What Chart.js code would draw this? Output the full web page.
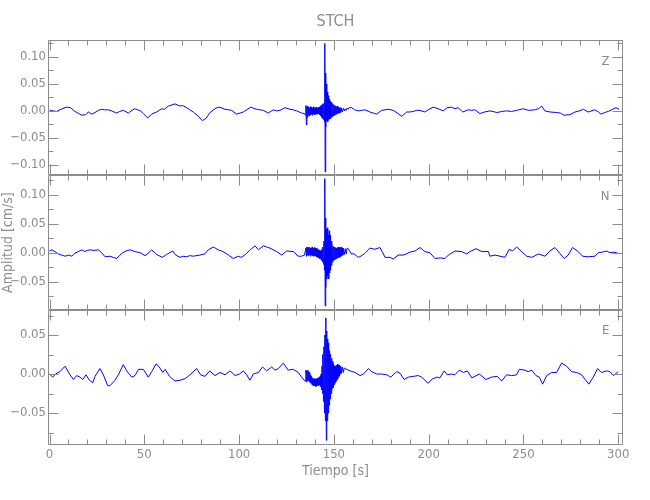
<!DOCTYPE html>
<html>
<head>
<meta charset="utf-8">
<title>STCH</title>
<script src="https://cdn.jsdelivr.net/npm/chart.js@4"></script>
<style>
  body { margin: 0; background: #fff; }
  #caja { width: 650px; height: 500px; }
</style>
</head>
<body>
<div id="caja"><canvas id="sismo" width="650" height="500"></canvas></div>
<script>
// traces: [tiempo (s), amplitud (cm/s)]
const trazaZ = [
  [0.3,0.001],[2,0.0],[3.8,-0.001],[6,0.003],[9,0.007],[11,0.006],[13.4,-0.001],[15,-0.004],[17,-0.008],[19,-0.007],
  [20.5,-0.002],[22.3,-0.006],[24,-0.003],[25.8,0.001],[27.5,0.003],[29,0.002],[31,0.002],[32.8,0.0],[35.4,-0.004],[37,-0.001],
  [39,0.001],[41.6,-0.004],[43.5,0.001],[45,0.004],[46.5,0.002],[48,0.0],[49.5,-0.005],[51.8,-0.013],[53.9,-0.006],[56.5,-0.002],
  [59.2,0.004],[60.5,0.003],[62.7,0.009],[64.5,0.011],[66.2,0.013],[68.8,0.009],[70.2,0.01],[71.8,0.007],[73.2,0.004],[75.8,-0.002],
  [78.5,-0.01],[80.6,-0.018],[82.5,-0.014],[84.7,-0.003],[87.3,0.004],[89,0.007],[90.5,0.006],[92.6,0.003],[94.3,0.002],[96,0.001],
  [98.7,-0.006],[100.5,-0.004],[102.2,-0.002],[104,0.002],[106.1,0.007],[107.5,0.005],[109.3,0.003],[111,0.002],[112.8,0.001],[115.4,-0.004],
  [118,0.002],[119.8,0.0],[121.6,0.001],[124.2,0.006],[126.8,0.003],[128.5,0.002],[130.4,0.0],[133,-0.004],[134.5,-0.005],[135,-0.008],
  [135.25,0.010],[135.5,-0.026],[135.75,0.008],[136,-0.012],[136.25,0.009],[136.5,-0.008],[136.75,0.007],[137,-0.009],[137.25,0.006],[137.5,-0.007],
  [137.75,0.008],[138,-0.006],[138.25,0.007],[138.5,-0.008],[138.75,0.006],[139,-0.005],[139.25,0.008],[139.5,-0.006],[139.75,0.005],[140,-0.007],
  [140.25,0.006],[140.5,-0.005],[140.75,0.007],[141,-0.006],[141.25,0.005],[141.5,-0.006],[141.75,0.006],[142,-0.005],[142.25,0.007],[142.5,-0.007],
  [142.75,0.008],[143,-0.009],[143.25,0.010],[143.5,-0.012],[143.75,0.011],[144,-0.014],[144.25,0.013],[144.5,-0.016],[144.75,0.014],[145,-0.02],
  [145.2,0.125],[145.4,-0.113],[145.6,0.07],[145.8,-0.03],[146,0.05],[146.25,-0.018],[146.5,0.035],[146.75,-0.02],[147,0.028],[147.25,-0.016],
  [147.5,0.022],[147.75,-0.015],[148,0.018],[148.25,-0.014],[148.5,0.016],[148.75,-0.012],[149,0.015],[149.25,-0.01],[149.5,0.013],[149.75,-0.009],
  [150,0.011],[150.25,-0.008],[150.5,0.01],[150.75,-0.007],[151,0.009],[151.25,-0.006],[151.5,0.008],[151.75,-0.005],[152,0.009],[152.25,-0.004],
  [152.5,0.007],[152.75,-0.004],[153,0.006],[153.25,-0.003],[153.5,0.006],[153.75,-0.002],[154,0.005],[154.5,-0.002],[155,0.005],[155.5,0.0],
  [156,0.004],[156.5,0.001],[157,0.005],[157.5,0.003],[158,0.006],[159.4,0.006],[161,0.002],[162.9,0.0],[164.6,0.001],[166.4,0.002],
  [169,-0.002],[170.8,-0.004],[172.6,-0.006],[175.2,0.001],[176.9,0.002],[178.7,0.003],[181.3,0.001],[183.5,-0.004],[185.8,-0.01],[188.4,-0.002],
  [190.1,-0.002],[191.9,-0.001],[193.7,0.001],[195.4,0.001],[198,-0.002],[200.2,0.003],[202.4,0.007],[205,0.004],[207.7,0.0],[209.8,0.006],
  [212,0.007],[213.8,0.004],[215.5,0.006],[218,-0.002],[220.9,0.002],[222.6,0.001],[224.4,0.002],[227,-0.005],[229.5,-0.002],[232.3,0.0],
  [236.2,-0.003],[238.5,-0.001],[241.1,0.0],[243.7,-0.001],[246.4,0.001],[249.9,0.004],[252.5,0.001],[256,0.002],[258,0.004],[259.6,0.009],
  [261.3,0.0],[264,-0.002],[267.5,-0.003],[269.5,-0.004],[271.4,-0.008],[274.5,-0.007],[277.2,-0.002],[279.5,0.0],[281.6,0.003],[284.2,-0.002],
  [287.7,0.002],[289.5,-0.002],[290.9,-0.006],[292.8,-0.003],[294.7,-0.001],[296.5,0.002],[298.8,0.006],[300.5,0.003]
];

const trazaN = [
  [0,0.003],[1.2,0.005],[2.8,0.002],[4.6,-0.002],[6.4,-0.004],[8.2,-0.006],[10,-0.004],[11.8,-0.006],[13.4,-0.001],[15.2,0.002],
  [17,0.005],[18.7,0.002],[20,0.004],[21.4,0.005],[23.5,0.004],[25.7,0.005],[27.5,0.0],[29.3,-0.007],[31.9,-0.006],[33.6,-0.008],
  [35.4,-0.01],[36.8,-0.005],[38.1,-0.001],[40.3,0.003],[42.5,0.005],[45.1,0.002],[47.8,0.0],[50.4,-0.005],[52,-0.001],[53.9,0.005],
  [55.2,0.001],[56.5,-0.003],[59.5,-0.008],[61.7,-0.003],[65,0.003],[66.2,-0.003],[68.8,-0.008],[70.5,-0.006],[72.3,-0.007],[74,-0.005],
  [75.8,-0.006],[79.3,-0.004],[81.9,-0.002],[83.8,0.005],[86.4,0.01],[89,0.005],[90.8,0.003],[92.6,0.0],[94.8,-0.005],[96.9,-0.01],
  [99.6,-0.006],[101.3,-0.008],[104,-0.001],[106.2,0.006],[108.4,0.012],[110.2,0.005],[112.8,0.012],[114.5,0.01],[116.3,0.008],[119.8,0.002],
  [122.5,-0.004],[125.1,0.003],[128.6,0.002],[131.2,-0.006],[133,-0.006],[134.5,-0.004],
  [135.25,0.008],[135.5,-0.006],[135.75,0.01],[136,-0.004],[136.25,0.009],[136.5,-0.005],[136.75,0.01],[137,-0.003],[137.25,0.009],[137.5,-0.006],
  [137.75,0.008],[138,-0.004],[138.25,0.009],[138.5,-0.005],[138.75,0.01],[139,-0.004],[139.25,0.008],[139.5,-0.006],[139.75,0.009],[140,-0.005],
  [140.25,0.007],[140.5,-0.006],[140.75,0.008],[141,-0.007],[141.25,0.006],[141.5,-0.008],[141.75,0.005],[142,-0.009],[142.25,0.004],[142.5,-0.01],
  [142.75,0.003],[143,-0.011],[143.25,0.004],[143.5,-0.013],[143.75,0.006],[144,-0.016],[144.25,0.01],[144.5,-0.02],[144.75,0.02],[145,-0.03],
  [145.2,0.128],[145.4,-0.092],[145.6,0.06],[145.8,-0.06],[146,0.04],[146.25,-0.045],[146.5,0.043],[146.75,-0.04],[147,0.03],[147.25,-0.045],
  [147.5,0.038],[147.75,-0.035],[148,0.03],[148.25,-0.03],[148.5,0.02],[148.75,-0.022],[149,0.015],[149.25,-0.016],[149.5,0.012],[149.75,-0.013],
  [150,0.01],[150.25,-0.012],[150.5,0.009],[150.75,-0.011],[151,0.009],[151.25,-0.01],[151.5,0.008],[151.75,-0.009],[152,0.009],[152.25,-0.008],
  [152.5,0.01],[152.75,-0.008],[153,0.009],[153.25,-0.007],[153.5,0.01],[153.75,-0.006],[154,0.009],[154.25,-0.005],[154.5,0.008],[154.75,-0.004],
  [155,0.008],[155.5,-0.003],[156,0.007],[156.5,-0.002],[157,0.008],[157.6,0.007],[159.4,-0.003],[160.2,-0.001],[162.9,-0.008],[164.7,-0.005],
  [166.4,-0.001],[169,0.008],[171.7,0.006],[174.3,0.009],[175.8,0.0],[177,-0.008],[179.6,-0.008],[181.3,-0.011],[183.9,-0.004],[186.5,-0.004],
  [188.3,-0.002],[190.1,0.001],[192.8,0.003],[195.4,0.009],[198,0.002],[200.7,0.0],[203.3,-0.01],[206,-0.009],[208.6,-0.01],[210.4,-0.004],
  [213.9,0.003],[217.4,0.002],[220,-0.002],[221.8,0.002],[225,0.007],[228,0.002],[231.5,0.002],[232.3,-0.006],[235,-0.004],[237.6,-0.006],
  [240.2,-0.008],[242.5,0.006],[244.3,0.003],[246.4,0.01],[249,0.002],[251.7,-0.006],[254.4,-0.008],[257.9,-0.002],[261.3,-0.006],[263.9,0.003],
  [266.6,0.009],[269.2,-0.001],[271.4,-0.01],[273.6,-0.004],[275.9,0.009],[278.9,0.002],[281.2,-0.006],[284.2,-0.007],[287.7,-0.006],[289.5,0.0],
  [291.5,0.001],[293.9,0.003],[295.6,0.0],[297.5,0.001],[300,-0.001]
];

const trazaE = [
  [0,0.0],[1.7,-0.004],[3.1,0.0],[5.5,0.003],[8.2,0.01],[10.8,-0.001],[12.6,-0.007],[14.3,-0.002],[16.1,-0.004],[17.5,-0.007],
  [19.3,-0.001],[21,-0.008],[22.8,-0.011],[24,-0.003],[26.6,0.007],[28.4,-0.001],[30.7,-0.015],[31.9,-0.015],[34.5,-0.008],[36.3,-0.001],
  [38.9,0.012],[40.7,0.004],[43.4,-0.004],[45.1,-0.002],[46.9,0.006],[49.5,0.006],[52.1,-0.004],[53.9,0.003],[56.2,0.013],[57.9,0.009],
  [59.7,0.002],[61,0.006],[63.3,-0.003],[66.2,-0.009],[68.8,-0.008],[71.5,-0.006],[74.1,-0.001],[77.6,0.007],[79.7,-0.001],[82,-0.003],
  [84.5,0.004],[87.3,-0.002],[89.9,0.002],[92.6,-0.001],[95.2,0.004],[97.9,-0.002],[100.2,0.0],[102.2,0.004],[104,-0.001],[105.7,-0.008],
  [107.5,0.0],[110.2,0.002],[112.4,0.009],[114.5,0.004],[117.2,0.009],[118.9,0.005],[120.7,0.007],[123.3,0.014],[125.9,0.005],[128.6,0.006],
  [131.2,0.002],[133,-0.004],[134.8,-0.009],
  [135.25,0.005],[135.5,-0.01],[135.75,0.004],[136,-0.009],[136.25,0.005],[136.5,-0.008],[136.75,0.003],[137,-0.01],[137.25,0.002],[137.5,-0.011],
  [137.75,-0.001],[138,-0.012],[138.25,-0.003],[138.5,-0.014],[138.75,-0.005],[139,-0.015],[139.25,-0.006],[139.5,-0.014],[139.75,-0.006],[140,-0.015],
  [140.25,-0.007],[140.5,-0.016],[140.75,-0.006],[141,-0.015],[141.25,-0.006],[141.5,-0.014],[141.75,-0.005],[142,-0.015],[142.25,-0.004],[142.5,-0.014],
  [142.75,-0.003],[143,-0.016],[143.25,0.0],[143.5,-0.02],[143.75,0.01],[144,-0.025],[144.25,0.025],[144.5,-0.035],[144.75,0.035],[145,-0.05],
  [145.25,0.05],[145.5,-0.06],[145.75,0.072],[146,-0.085],[146.25,0.055],[146.5,-0.06],[146.75,0.045],[147,-0.05],[147.25,0.04],[147.5,-0.04],
  [147.75,0.03],[148,-0.032],[148.25,0.025],[148.5,-0.025],[148.75,0.02],[149,-0.02],[149.25,0.016],[149.5,-0.018],[149.75,0.012],[150,-0.014],
  [150.25,0.01],[150.5,-0.012],[150.75,0.01],[151,-0.01],[151.25,0.011],[151.5,-0.008],[151.75,0.012],[152,-0.006],[152.25,0.012],[152.5,-0.004],
  [152.75,0.011],[153,-0.002],[153.25,0.01],[153.5,0.0],[153.75,0.01],[154,0.001],[154.5,0.009],[155,0.002],[155.5,0.008],[155.9,0.007],
  [158.5,0.004],[161.2,0.002],[163.8,-0.002],[165.6,0.0],[168.2,0.007],[169.9,0.003],[172.6,0.0],[175.2,0.0],[177.9,-0.001],[180,-0.004],
  [183.1,0.003],[184.9,0.001],[187,-0.007],[189.3,-0.004],[191.9,-0.003],[194.5,-0.002],[196.3,-0.004],[199.8,-0.012],[201.5,-0.007],[204.2,-0.004],
  [205.9,-0.005],[208.2,0.004],[209.8,-0.001],[212,0.0],[213.8,-0.001],[216.2,0.005],[218.3,0.002],[220.4,0.004],[222.7,-0.005],[224.4,-0.003],
  [226.7,0.0],[230.2,-0.007],[233.2,-0.004],[236.2,-0.003],[238.5,-0.009],[241.1,-0.001],[243.8,-0.002],[246.4,-0.001],[247.8,0.006],[250.8,0.005],
  [252.5,0.003],[254.3,0.005],[256.6,-0.002],[258.4,-0.004],[260.1,-0.013],[262.2,-0.002],[264.9,0.002],[267.5,0.002],[270.1,0.014],[272.8,0.01],
  [275.4,0.003],[278.1,0.002],[280.7,-0.001],[282.5,-0.007],[284.5,-0.013],[286.8,-0.004],[289.1,0.007],[291.2,0.002],[293.9,0.004],[295.6,0.003],
  [297.4,-0.002],[300,0.003]
];

const ticksTiempo = [0, 50, 100, 150, 200, 250, 300];
const ticksZ = [-0.10, -0.05, 0.00, 0.05, 0.10];
const ticksN = [-0.05, 0.00, 0.05, 0.10];
const ticksE = [-0.05, 0.00, 0.05];

const GRIS = '#8c8c8c';
const AZUL = 'rgb(0,0,255)';
const FUENTE = "'Liberation Sans Narrow', 'DejaVu Sans Condensed', 'Liberation Sans', sans-serif";

const paneles = [
  { id: 'z', nombre: 'Z', traza: trazaZ, ticks: ticksZ, min: -0.119, max: 0.131, peso: 3 },
  { id: 'n', nombre: 'N', traza: trazaN, ticks: ticksN, min: -0.099, max: 0.134, peso: 2 },
  { id: 'e', nombre: 'E', traza: trazaE, ticks: ticksE, min: -0.091, max: 0.082, peso: 1 }
];

function etiqueta(v) {
  return (v < -1e-9 ? '\u2212' : '') + Math.abs(v).toFixed(2);
}

function ejePanel(p) {
  return {
    type: 'linear',
    position: 'left',
    stack: 'sismo',
    stackWeight: 1,
    weight: p.peso,
    min: p.min,
    max: p.max,
    grid: { display: false, drawTicks: false },
    border: { display: false },
    afterBuildTicks: (s) => { s.ticks = p.ticks.map(v => ({ value: v })); },
    afterFit: (s) => { s.width = 48; },
    ticks: { color: GRIS, autoSkip: false, padding: 2, font: { family: FUENTE, size: 13 }, callback: (v) => etiqueta(v) },
    title: {
      display: p.id === 'n',
      text: 'Amplitud [cm/s]',
      color: GRIS,
      padding: 0,
      font: { family: FUENTE, size: 14 }
    }
  };
}

// frames + inward ticks (IDL style) for every panel
const marcos = {
  id: 'marcos',
  afterDraw(chart) {
    const ctx = chart.ctx;
    const area = chart.chartArea;
    const xs = chart.scales.x;
    const L = Math.round(area.left) + 0.5;
    const R = Math.round(area.right) - 0.5;
    ctx.save();
    ctx.strokeStyle = GRIS;
    ctx.lineWidth = 1;
    ctx.beginPath();
    paneles.forEach(p => {
      const ys = chart.scales[p.id];
      const T = Math.round(ys.top) + 0.5;
      const B = Math.round(ys.bottom) - 0.5;
      ctx.rect(L, T, R - L, B - T);
      // y ticks, minor every 0.025
      for (let v = Math.ceil(p.min / 0.025) * 0.025; v <= p.max; v += 0.025) {
        const y = Math.round(ys.getPixelForValue(v)) + 0.5;
        const mayor = p.ticks.some(t => Math.abs(t - v) < 1e-6);
        const len = mayor ? 10 : 5;
        ctx.moveTo(L, y); ctx.lineTo(L + len, y);
        ctx.moveTo(R, y); ctx.lineTo(R - len, y);
      }
      // x ticks, minor every 10 s
      for (let t = 0; t <= 300; t += 10) {
        const x = Math.round(xs.getPixelForValue(t)) + 0.5;
        const len = ticksTiempo.includes(t) ? 10 : 5;
        ctx.moveTo(x, T); ctx.lineTo(x, T + len);
        ctx.moveTo(x, B); ctx.lineTo(x, B - len);
      }
    });
    ctx.stroke();
    ctx.fillStyle = GRIS;
    ctx.font = '13px ' + FUENTE;
    ctx.textAlign = 'right';
    ctx.textBaseline = 'middle';
    paneles.forEach(p => {
      ctx.fillText(p.nombre, area.right - 13.5, chart.scales[p.id].top + 21);
    });
    ctx.restore();
  }
};

window.onload = function () {
  const escalas = {
    x: {
      type: 'linear',
      position: 'bottom',
      min: -0.8,
      max: 302.5,
      grid: { display: false, drawTicks: false },
      border: { display: false },
      afterBuildTicks: (s) => { s.ticks = ticksTiempo.map(v => ({ value: v })); },
      afterFit: (s) => { s.height = 55; },
      ticks: { color: GRIS, autoSkip: false, maxRotation: 0, padding: 2, font: { family: FUENTE, size: 13 }, callback: (v) => String(v) },
      title: { display: true, text: 'Tiempo [s]', color: GRIS, padding: { top: 0, bottom: 20 }, font: { family: FUENTE, size: 14 } }
    }
  };
  paneles.forEach(p => { escalas[p.id] = ejePanel(p); });

  new Chart(document.getElementById('sismo'), {
    type: 'line',
    data: {
      datasets: paneles.map(p => ({
        label: p.nombre,
        data: p.traza.map(d => ({ x: d[0], y: d[1] })),
        yAxisID: p.id,
        xAxisID: 'x',
        borderColor: AZUL,
        borderWidth: 1,
        pointRadius: 0,
        tension: 0,
        fill: false
      }))
    },
    options: {
      responsive: false,
      animation: false,
      events: [],
      layout: { padding: { left: 0, right: 27, top: 0, bottom: 0 } },
      scales: escalas,
      plugins: {
        legend: { display: false },
        tooltip: { enabled: false },
        title: {
          display: true,
          text: 'STCH',
          color: GRIS,
          fullSize: false,
          font: { family: FUENTE, size: 16, weight: 'normal' },
          padding: { top: 12, bottom: 9 }
        }
      }
    },
    plugins: [marcos]
  });
};
</script>
</body>
</html>
